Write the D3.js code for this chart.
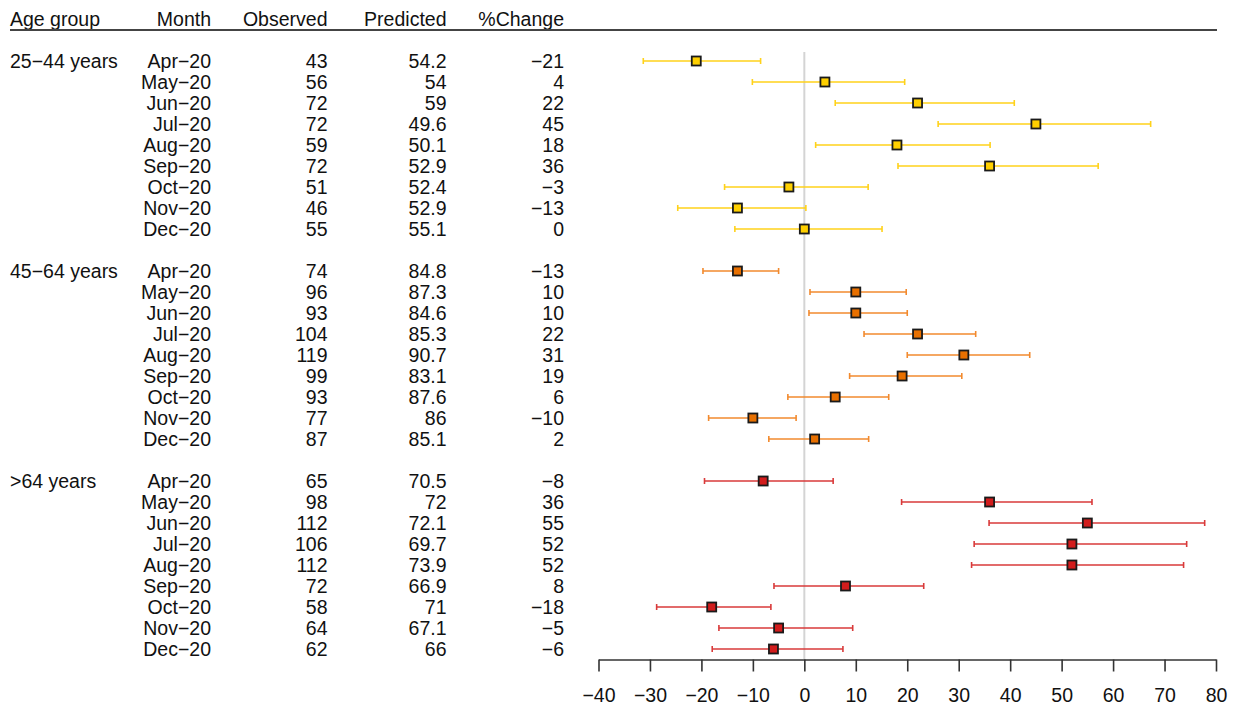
<!DOCTYPE html>
<html>
<head>
<meta charset="utf-8">
<script src="https://cdn.jsdelivr.net/npm/d3@7"></script>
<style>
  html, body { margin: 0; padding: 0; background: #fff; }
  svg { display: block; }
  text { font-family: "Liberation Sans", Arial, sans-serif; fill: #111; }
</style>
</head>
<body>
<svg id="chart" width="1236" height="706"></svg>
<script>
// ---------------- data ----------------
const headers = ["Age group", "Month", "Observed", "Predicted", "%Change"];
const ageGroups = ["25\u221244 years", "45\u221264 years", ">64 years"];
const months = ["Apr\u221220", "May\u221220", "Jun\u221220", "Jul\u221220", "Aug\u221220", "Sep\u221220", "Oct\u221220", "Nov\u221220", "Dec\u221220"];

const observed = [
  [43, 56, 72, 72, 59, 72, 51, 46, 55],
  [74, 96, 93, 104, 119, 99, 93, 77, 87],
  [65, 98, 112, 106, 112, 72, 58, 64, 62]
];
const predicted = [
  ["54.2", "54", "59", "49.6", "50.1", "52.9", "52.4", "52.9", "55.1"],
  ["84.8", "87.3", "84.6", "85.3", "90.7", "83.1", "87.6", "86", "85.1"],
  ["70.5", "72", "72.1", "69.7", "73.9", "66.9", "71", "67.1", "66"]
];
const pctChange = [
  [-21, 4, 22, 45, 18, 36, -3, -13, 0],
  [-13, 10, 10, 22, 31, 19, 6, -10, 2],
  [-8, 36, 55, 52, 52, 8, -18, -5, -6]
];
const ciLower = [
  [-31.3, -10.1, 6.0, 26.0, 2.2, 18.2, -15.5, -24.6, -13.5],
  [-19.7, 1.1, 0.9, 11.6, 20.0, 8.8, -3.2, -18.6, -6.9],
  [-19.4, 18.9, 35.9, 33.0, 32.5, -5.9, -28.7, -16.6, -17.9]
];
const ciUpper = [
  [-8.5, 19.5, 40.8, 67.3, 36.1, 57.1, 12.4, 0.3, 15.1],
  [-5.0, 19.8, 20.0, 33.3, 43.8, 30.6, 16.4, -1.6, 12.5],
  [5.6, 55.9, 77.8, 74.3, 73.7, 23.2, -6.5, 9.4, 7.5]
];
const axisTicks = [-40, -30, -20, -10, 0, 10, 20, 30, 40, 50, 60, 70, 80];

const lineColors = ["#FFD21A", "#F28A2E", "#D93A3A"];
const fillColors = ["#FFD000", "#E87000", "#D21C1C"];

// ---------------- layout ----------------
const svg = d3.select("#chart");
const FS = 19.5;
const capHalf = 7;

// row index: header = 0, groups start at 2, 12, 22
const rowIndex = (g, m) => 2 + g * 10 + m;
const y = d3.scaleLinear().domain([0, 30]).range([19, 649]);
const x = d3.scaleLinear().domain([-40, 80]).range([598.5, 1216]);

const colX = { age: 10, month: 211, obs: 327.5, pred: 446.5, pct: 564 };

const rows = [];
ageGroups.forEach((ag, g) => {
  months.forEach((mo, m) => {
    rows.push({
      g, m, ag, mo,
      obs: observed[g][m],
      pred: predicted[g][m],
      pct: pctChange[g][m],
      lo: ciLower[g][m],
      hi: ciUpper[g][m],
      r: rowIndex(g, m)
    });
  });
});

// header
const hy = y(0) + capHalf;
const hdr = svg.append("g").attr("font-size", FS);
hdr.append("text").attr("x", colX.age).attr("y", hy).text(headers[0]);
hdr.append("text").attr("x", colX.month).attr("y", hy).attr("text-anchor", "end").text(headers[1]);
hdr.append("text").attr("x", colX.obs).attr("y", hy).attr("text-anchor", "end").text(headers[2]);
hdr.append("text").attr("x", colX.pred).attr("y", hy).attr("text-anchor", "end").text(headers[3]);
hdr.append("text").attr("x", colX.pct).attr("y", hy).attr("text-anchor", "end").text(headers[4]);

svg.append("line")
  .attr("x1", 10).attr("x2", 1217)
  .attr("y1", 30).attr("y2", 30)
  .attr("stroke", "#444").attr("stroke-width", 2);

// table text
const tbl = svg.append("g").attr("font-size", FS);
ageGroups.forEach((ag, g) => {
  tbl.append("text").attr("x", colX.age).attr("y", y(rowIndex(g, 0)) + capHalf).text(ag);
});
const fmt = d3.format("d");
rows.forEach(d => {
  const ty = y(d.r) + capHalf;
  tbl.append("text").attr("x", colX.month).attr("y", ty).attr("text-anchor", "end").text(d.mo);
  tbl.append("text").attr("x", colX.obs).attr("y", ty).attr("text-anchor", "end").text(d.obs);
  tbl.append("text").attr("x", colX.pred).attr("y", ty).attr("text-anchor", "end").text(d.pred);
  tbl.append("text").attr("x", colX.pct).attr("y", ty).attr("text-anchor", "end").text(fmt(d.pct));
});

// zero reference line
svg.append("line")
  .attr("x1", x(0)).attr("x2", x(0))
  .attr("y1", 52).attr("y2", 659)
  .attr("stroke", "#d4d4d4").attr("stroke-width", 2);

// error bars
const bars = svg.append("g");
rows.forEach(d => {
  const cy = y(d.r);
  const col = lineColors[d.g];
  bars.append("line").attr("x1", x(d.lo)).attr("x2", x(d.hi)).attr("y1", cy).attr("y2", cy)
    .attr("stroke", col).attr("stroke-width", 1.6);
  [d.lo, d.hi].forEach(v => {
    bars.append("line").attr("x1", x(v)).attr("x2", x(v)).attr("y1", cy - 3).attr("y2", cy + 3)
      .attr("stroke", col).attr("stroke-width", 1.6);
  });
});

// point markers
const S = 9;
rows.forEach(d => {
  svg.append("rect")
    .attr("x", x(d.pct) - S / 2).attr("y", y(d.r) - S / 2)
    .attr("width", S).attr("height", S)
    .attr("fill", fillColors[d.g])
    .attr("stroke", "#1a1a1a").attr("stroke-width", 1.8);
});

// x axis
const axis = d3.axisBottom(x).tickValues(axisTicks).tickSize(12).tickSizeOuter(0).tickPadding(17);
const ax = svg.append("g").attr("transform", "translate(0,659.5)").call(axis);
ax.select(".domain").attr("stroke", "#333").attr("stroke-width", 1.6);
ax.selectAll(".tick line").attr("stroke", "#333").attr("stroke-width", 1.6);
ax.selectAll(".tick text").attr("font-size", FS).attr("fill", "#111")
  .attr("font-family", "'Liberation Sans', Arial, sans-serif");
</script>
</body>
</html>
